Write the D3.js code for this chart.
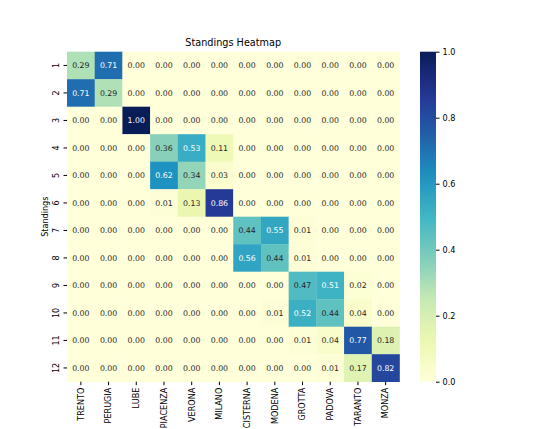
<!DOCTYPE html>
<html>
<head>
<meta charset="utf-8">
<script src="https://cdn.jsdelivr.net/npm/d3@7"></script>
<style>
  body { margin: 0; background: #fff; }
  text { font-family: "DejaVu Sans", sans-serif; }
</style>
</head>
<body>
<svg id="chart"></svg>
<script>
// teams on the x axis, standings on the y axis
var teams = ["TRENTO", "PERUGIA", "LUBE", "PIACENZA", "VERONA", "MILANO",
             "CISTERNA", "MODENA", "GROTTA", "PADOVA", "TARANTO", "MONZA"];
var standings = ["1", "2", "3", "4", "5", "6", "7", "8", "9", "10", "11", "12"];

// one row per standing, one value per team
var row1  = [0.29, 0.71, 0.00, 0.00, 0.00, 0.00, 0.00, 0.00, 0.00, 0.00, 0.00, 0.00];
var row2  = [0.71, 0.29, 0.00, 0.00, 0.00, 0.00, 0.00, 0.00, 0.00, 0.00, 0.00, 0.00];
var row3  = [0.00, 0.00, 1.00, 0.00, 0.00, 0.00, 0.00, 0.00, 0.00, 0.00, 0.00, 0.00];
var row4  = [0.00, 0.00, 0.00, 0.36, 0.53, 0.11, 0.00, 0.00, 0.00, 0.00, 0.00, 0.00];
var row5  = [0.00, 0.00, 0.00, 0.62, 0.34, 0.03, 0.00, 0.00, 0.00, 0.00, 0.00, 0.00];
var row6  = [0.00, 0.00, 0.00, 0.01, 0.13, 0.86, 0.00, 0.00, 0.00, 0.00, 0.00, 0.00];
var row7  = [0.00, 0.00, 0.00, 0.00, 0.00, 0.00, 0.44, 0.55, 0.01, 0.00, 0.00, 0.00];
var row8  = [0.00, 0.00, 0.00, 0.00, 0.00, 0.00, 0.56, 0.44, 0.01, 0.00, 0.00, 0.00];
var row9  = [0.00, 0.00, 0.00, 0.00, 0.00, 0.00, 0.00, 0.00, 0.47, 0.51, 0.02, 0.00];
var row10 = [0.00, 0.00, 0.00, 0.00, 0.00, 0.00, 0.00, 0.01, 0.52, 0.44, 0.04, 0.00];
var row11 = [0.00, 0.00, 0.00, 0.00, 0.00, 0.00, 0.00, 0.00, 0.01, 0.04, 0.77, 0.18];
var row12 = [0.00, 0.00, 0.00, 0.00, 0.00, 0.00, 0.00, 0.00, 0.00, 0.01, 0.17, 0.82];
var rows = [row1, row2, row3, row4, row5, row6, row7, row8, row9, row10, row11, row12];

var cbarTicks = [0.0, 0.2, 0.4, 0.6, 0.8, 1.0];

var width = 536, height = 429;
var mLeft = 67, mRight = 399.5, mTop = 51.7, mBottom = 381.7;

var svg = d3.select("#chart")
    .attr("width", width)
    .attr("height", height);

// matplotlib's YlGnBu is a linear blend of the 9 brewer colours
var color = d3.scaleLinear()
    .domain(d3.range(9).map(function(i) { return i / 8; }))
    .range(d3.schemeYlGnBu[9])
    .interpolate(d3.interpolateRgb);

var x = d3.scaleBand().domain(teams).range([mLeft, mRight]);
var y = d3.scaleBand().domain(standings).range([mTop, mBottom]);

var cells = [];
rows.forEach(function(r, i) {
    r.forEach(function(v, j) {
        cells.push({ s: standings[i], t: teams[j], v: v });
    });
});

function lum(c) {
    var rgb = d3.rgb(c);
    var f = function(u) {
        u = u / 255;
        return u <= 0.03928 ? u / 12.92 : Math.pow((u + 0.055) / 1.055, 2.4);
    };
    return 0.2126 * f(rgb.r) + 0.7152 * f(rgb.g) + 0.0722 * f(rgb.b);
}

svg.append("g").selectAll("rect")
    .data(cells)
    .enter()
    .append("rect")
    .attr("x", function(d) { return x(d.t); })
    .attr("y", function(d) { return y(d.s); })
    .attr("width", x.bandwidth() + 0.3)
    .attr("height", y.bandwidth() + 0.3)
    .attr("fill", function(d) { return color(d.v); });

svg.append("g").selectAll("text")
    .data(cells)
    .enter()
    .append("text")
    .attr("x", function(d) { return x(d.t) + x.bandwidth() / 2; })
    .attr("y", function(d) { return y(d.s) + y.bandwidth() / 2; })
    .attr("text-anchor", "middle")
    .attr("dy", "0.35em")
    .style("font-size", "7.8px")
    .attr("fill", function(d) { return lum(color(d.v)) > 0.408 ? "#262626" : "#ffffff"; })
    .text(function(d) { return d.v.toFixed(2); });

// axes
var xAxis = svg.append("g")
    .attr("transform", "translate(0," + mBottom + ")")
    .call(d3.axisBottom(x).tickSize(3.5).tickPadding(3));
xAxis.select(".domain").remove();
xAxis.selectAll("text")
    .style("font-size", "8.1px")
    .attr("fill", "#000")
    .attr("text-anchor", "end")
    .attr("transform", "rotate(-90)")
    .attr("x", -6)
    .attr("y", 0)
    .attr("dy", "0.35em");

var yAxis = svg.append("g")
    .attr("transform", "translate(" + mLeft + ",0)")
    .call(d3.axisLeft(y).tickSize(3.5).tickPadding(3));
yAxis.select(".domain").remove();
yAxis.selectAll("text")
    .style("font-size", "8.1px")
    .attr("fill", "#000")
    .attr("text-anchor", "middle")
    .attr("transform", "rotate(-90)")
    .attr("x", 0)
    .attr("y", -10.5)
    .attr("dy", "0.35em");

svg.append("text")
    .attr("transform", "translate(45," + ((mTop + mBottom) / 2) + ") rotate(-90)")
    .attr("text-anchor", "middle")
    .attr("dy", "0.35em")
    .style("font-size", "8.1px")
    .text("Standings");

svg.append("text")
    .attr("x", (mLeft + mRight) / 2)
    .attr("y", 46)
    .attr("text-anchor", "middle")
    .style("font-size", "9.7px")
    .text("Standings Heatmap");

// colorbar
var cbX = 420, cbW = 16;
var cbY = d3.scaleLinear().domain([0, 1]).range([mBottom, mTop]);
var grad = svg.append("defs").append("linearGradient")
    .attr("id", "cbar")
    .attr("x1", 0).attr("y1", 1).attr("x2", 0).attr("y2", 0);
d3.range(0, 1.0001, 0.05).forEach(function(t) {
    grad.append("stop")
        .attr("offset", t)
        .attr("stop-color", color(t));
});
svg.append("rect")
    .attr("x", cbX)
    .attr("y", cbY(1))
    .attr("width", cbW)
    .attr("height", cbY(0) - cbY(1))
    .attr("fill", "url(#cbar)");

var cbAxis = svg.append("g")
    .attr("transform", "translate(" + (cbX + cbW) + ",0)")
    .call(d3.axisRight(cbY).tickValues(cbarTicks).tickFormat(d3.format(".1f")).tickSize(3.5).tickPadding(3));
cbAxis.select(".domain").remove();
cbAxis.selectAll("text")
    .style("font-size", "8.1px")
    .attr("fill", "#000");
</script>
</body>
</html>
